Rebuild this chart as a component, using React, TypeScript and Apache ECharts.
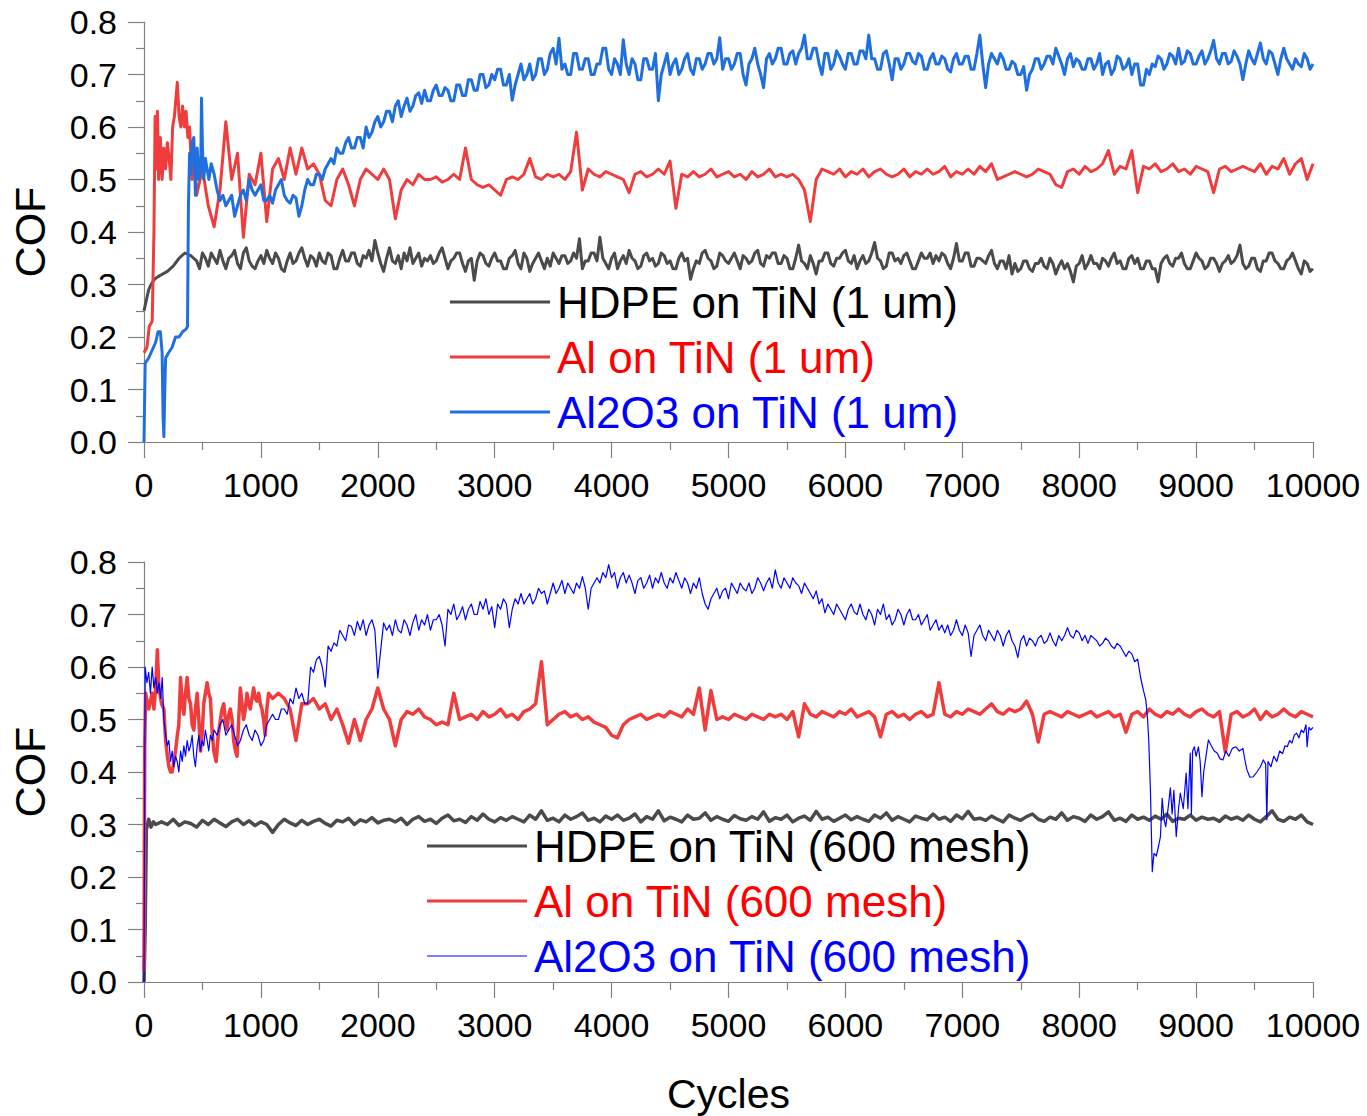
import React, { useEffect, useRef } from 'react';
import * as echarts from 'echarts';

const FONT = "'Liberation Sans', Arial, sans-serif";

const xTicks = { min: 0, max: 10000, interval: 1000 };
const yTicks = { min: 0, max: 0.8, interval: 0.1 };

const names1 = ['HDPE on TiN (1 um)', 'Al on TiN (1 um)', 'Al2O3 on TiN (1 um)'];
const names6 = ['HDPE on TiN (600 mesh)', 'Al on TiN (600 mesh)', 'Al2O3 on TiN (600 mesh)'];

// ---------- Top panel: 1 um ----------
// HDPE: head points, then rows of 1000 cycles sampled every 25 cycles from 450
const hdpe1Head = [[0,0.25],[20,0.27],[40,0.29],[60,0.30],[90,0.31],[120,0.315],[160,0.32],[200,0.325],[250,0.335],[300,0.35],[350,0.36],[400,0.355],[425,0.35]];
const hdpe1Start = 450;
const hdpe1Rows = [
  [0.345,0.33,0.36,0.35,0.335,0.36,0.35,0.34,0.365,0.345,0.33,0.35,0.355,0.365,0.34,0.33,0.36,0.37,0.345,0.335,0.33,0.345,0.355,0.34,0.365,0.35,0.34,0.36,0.35,0.33,0.325,0.345,0.36,0.34,0.345,0.36,0.37,0.35,0.335,0.355],
  [0.35,0.335,0.36,0.345,0.34,0.36,0.355,0.33,0.33,0.35,0.365,0.345,0.345,0.36,0.36,0.34,0.335,0.355,0.35,0.365,0.345,0.384,0.36,0.34,0.325,0.35,0.37,0.345,0.34,0.355,0.33,0.36,0.345,0.37,0.34,0.35,0.36,0.335,0.35,0.345],
  [0.355,0.34,0.345,0.36,0.37,0.35,0.33,0.345,0.35,0.36,0.36,0.34,0.325,0.345,0.35,0.308,0.345,0.36,0.355,0.34,0.335,0.35,0.36,0.345,0.345,0.33,0.33,0.35,0.355,0.365,0.34,0.33,0.36,0.35,0.325,0.34,0.35,0.36,0.345,0.33],
  [0.35,0.335,0.36,0.35,0.34,0.355,0.355,0.34,0.345,0.36,0.35,0.387,0.33,0.345,0.345,0.36,0.36,0.345,0.39,0.35,0.34,0.33,0.35,0.36,0.33,0.345,0.355,0.34,0.365,0.35,0.345,0.33,0.335,0.355,0.36,0.345,0.35,0.335,0.34,0.36],
  [0.355,0.34,0.345,0.33,0.33,0.35,0.36,0.345,0.35,0.31,0.33,0.345,0.34,0.36,0.365,0.35,0.345,0.33,0.335,0.36,0.355,0.345,0.34,0.35,0.36,0.345,0.33,0.355,0.35,0.34,0.345,0.36,0.365,0.34,0.335,0.355,0.35,0.36,0.36,0.34],
  [0.34,0.355,0.35,0.33,0.33,0.35,0.375,0.345,0.34,0.33,0.355,0.34,0.32,0.345,0.345,0.36,0.36,0.34,0.335,0.35,0.35,0.36,0.365,0.345,0.34,0.355,0.33,0.345,0.355,0.34,0.345,0.36,0.38,0.35,0.345,0.33,0.335,0.36,0.36,0.345],
  [0.35,0.34,0.355,0.36,0.345,0.33,0.33,0.345,0.36,0.35,0.35,0.36,0.34,0.355,0.345,0.36,0.355,0.34,0.33,0.35,0.378,0.345,0.345,0.36,0.36,0.335,0.335,0.35,0.35,0.345,0.34,0.355,0.365,0.34,0.33,0.345,0.345,0.33,0.355,0.32],
  [0.34,0.325,0.33,0.345,0.345,0.33,0.325,0.34,0.34,0.35,0.335,0.33,0.35,0.34,0.32,0.335,0.345,0.33,0.34,0.325,0.305,0.335,0.34,0.355,0.33,0.34,0.355,0.34,0.34,0.33,0.35,0.345,0.335,0.35,0.36,0.34,0.345,0.33,0.33,0.35],
  [0.355,0.34,0.35,0.33,0.33,0.345,0.345,0.33,0.33,0.305,0.34,0.35,0.355,0.34,0.335,0.35,0.35,0.36,0.34,0.33,0.33,0.345,0.36,0.35,0.345,0.33,0.335,0.35,0.35,0.34,0.325,0.34,0.345,0.355,0.34,0.345,0.355,0.375,0.34,0.33],
  [0.335,0.35,0.35,0.33,0.325,0.345,0.345,0.36,0.36,0.345,0.34,0.33,0.33,0.345,0.35,0.36,0.345,0.33,0.32,0.345,0.34,0.325,0.33],
];

// Al: head points, then rows sampled every 50 cycles from 450
const al1Head = [[0,0.17],[25,0.18],[45,0.22],[70,0.23],[85,0.4],[95,0.62],[105,0.52],[115,0.63],[125,0.5],[140,0.58],[155,0.5],[170,0.56],[185,0.52],[200,0.57],[215,0.54],[230,0.5],[245,0.6],[260,0.62],[285,0.685],[300,0.62],[315,0.6],[330,0.64],[345,0.6],[360,0.63],[375,0.58],[390,0.6],[410,0.5],[430,0.53]];
const al1Start = 450;
const al1Rows = [
  [0.47,0.52,0.45,0.41,0.48,0.61,0.50,0.55,0.39,0.51,0.49,0.55,0.42,0.52,0.54,0.50,0.56,0.51,0.56,0.52],
  [0.53,0.51,0.46,0.45,0.50,0.52,0.49,0.45,0.50,0.52,0.51,0.50,0.52,0.50,0.425,0.48,0.50,0.49,0.51,0.50],
  [0.50,0.505,0.495,0.50,0.51,0.50,0.56,0.50,0.49,0.485,0.49,0.48,0.47,0.50,0.505,0.50,0.51,0.54,0.505,0.50],
  [0.51,0.505,0.51,0.50,0.515,0.59,0.48,0.52,0.51,0.505,0.515,0.51,0.505,0.50,0.475,0.51,0.515,0.505,0.51,0.52],
  [0.51,0.535,0.445,0.51,0.505,0.515,0.505,0.51,0.52,0.505,0.51,0.515,0.505,0.51,0.50,0.515,0.505,0.51,0.52,0.505],
  [0.51,0.505,0.51,0.50,0.48,0.42,0.50,0.52,0.515,0.51,0.52,0.505,0.515,0.51,0.52,0.505,0.515,0.52,0.51,0.505],
  [0.51,0.52,0.505,0.515,0.51,0.52,0.51,0.515,0.525,0.505,0.515,0.51,0.52,0.51,0.525,0.515,0.53,0.50,0.505,0.51],
  [0.515,0.51,0.505,0.51,0.52,0.515,0.51,0.49,0.485,0.515,0.52,0.51,0.525,0.515,0.52,0.53,0.555,0.51,0.525,0.52],
  [0.555,0.475,0.525,0.52,0.53,0.515,0.52,0.53,0.515,0.52,0.51,0.525,0.52,0.515,0.475,0.52,0.525,0.515,0.52,0.525],
  [0.52,0.515,0.53,0.51,0.525,0.52,0.54,0.51,0.53,0.54,0.50,0.53],
];

// Al2O3: head points, then rows sampled every 25 cycles from 600
const alo1Head = [[0,0],[10,0.15],[40,0.16],[80,0.18],[100,0.19],[120,0.21],[140,0.21],[155,0.17],[163,0.05],[170,0.01],[178,0.1],[185,0.16],[210,0.17],[240,0.18],[270,0.2],[300,0.2],[330,0.21],[360,0.215],[372,0.22],[380,0.45],[390,0.55],[400,0.51],[412,0.57],[426,0.58],[440,0.47],[455,0.56],[470,0.5],[485,0.52],[492,0.655],[500,0.56],[511,0.5],[525,0.54],[540,0.52],[555,0.5],[575,0.53]];
const alo1Start = 600;
const alo1Rows = [
  [0.51,0.48,0.46,0.47,0.45,0.46,0.47,0.43,0.45,0.47,0.48,0.46,0.5,0.48,0.47,0.48,0.49,0.46,0.46,0.47,0.455,0.48,0.49,0.5,0.47,0.46,0.455,0.47,0.465,0.43,0.45,0.48,0.5,0.49,0.49,0.51,0.51,0.5,0.52,0.53],
  [0.54,0.53,0.56,0.55,0.55,0.57,0.58,0.56,0.56,0.58,0.58,0.56,0.6,0.58,0.59,0.61,0.62,0.6,0.61,0.63,0.63,0.61,0.64,0.65,0.62,0.64,0.655,0.63,0.64,0.66,0.665,0.645,0.67,0.65,0.65,0.67,0.68,0.66,0.66,0.675],
  [0.67,0.65,0.65,0.68,0.68,0.66,0.66,0.69,0.69,0.67,0.67,0.7,0.7,0.675,0.68,0.7,0.69,0.71,0.71,0.68,0.68,0.7,0.651,0.68,0.7,0.72,0.69,0.7,0.72,0.69,0.7,0.73,0.73,0.7,0.71,0.74,0.75,0.72,0.769,0.71],
  [0.72,0.7,0.7,0.74,0.74,0.71,0.71,0.73,0.73,0.7,0.7,0.72,0.72,0.75,0.75,0.71,0.7,0.73,0.72,0.7,0.766,0.72,0.7,0.73,0.72,0.69,0.69,0.73,0.73,0.71,0.71,0.74,0.65,0.7,0.72,0.74,0.7,0.72,0.73,0.7],
  [0.71,0.73,0.74,0.71,0.7,0.73,0.73,0.71,0.72,0.74,0.74,0.72,0.73,0.77,0.71,0.73,0.73,0.71,0.72,0.74,0.74,0.7,0.68,0.72,0.73,0.75,0.72,0.7,0.675,0.73,0.74,0.72,0.73,0.75,0.75,0.72,0.72,0.74,0.745,0.72],
  [0.74,0.75,0.775,0.73,0.73,0.75,0.75,0.72,0.7,0.74,0.74,0.71,0.72,0.745,0.735,0.72,0.71,0.74,0.74,0.72,0.72,0.745,0.745,0.73,0.775,0.73,0.73,0.71,0.71,0.74,0.745,0.72,0.69,0.73,0.73,0.71,0.72,0.74,0.74,0.725],
  [0.72,0.74,0.735,0.71,0.71,0.73,0.74,0.72,0.72,0.735,0.73,0.71,0.705,0.73,0.74,0.72,0.72,0.735,0.735,0.71,0.71,0.74,0.775,0.72,0.675,0.72,0.74,0.73,0.72,0.74,0.73,0.71,0.71,0.725,0.72,0.7,0.7,0.715,0.67,0.7],
  [0.71,0.73,0.73,0.71,0.72,0.735,0.735,0.72,0.75,0.735,0.72,0.7,0.73,0.74,0.715,0.73,0.725,0.71,0.71,0.73,0.73,0.71,0.72,0.74,0.7,0.72,0.725,0.7,0.71,0.735,0.73,0.71,0.715,0.73,0.7,0.72,0.72,0.68,0.68,0.71],
  [0.7,0.72,0.715,0.735,0.73,0.71,0.72,0.74,0.735,0.72,0.75,0.72,0.725,0.745,0.74,0.72,0.72,0.735,0.745,0.72,0.73,0.745,0.765,0.73,0.72,0.74,0.74,0.72,0.725,0.745,0.735,0.72,0.69,0.72,0.745,0.73,0.72,0.74,0.76,0.73],
  [0.72,0.745,0.74,0.72,0.7,0.73,0.75,0.73,0.72,0.71,0.73,0.72,0.715,0.74,0.73,0.71,0.72],
];

// ---------- Bottom panel: 600 mesh ----------
const hdpe6Head = [[0,0],[10,0.1],[20,0.29],[40,0.31],[60,0.295],[80,0.305],[100,0.3]];
const hdpe6Start = 150;
const hdpe6Rows = [
  [0.305,0.3,0.31,0.298,0.305,0.302,0.295,0.308,0.3,0.31,0.303,0.296,0.305,0.31,0.3,0.307,0.298,0.305,0.3,0.285],
  [0.3,0.31,0.303,0.298,0.308,0.3,0.306,0.31,0.302,0.297,0.308,0.305,0.312,0.3,0.309,0.305,0.313,0.303,0.308,0.31],
  [0.305,0.312,0.3,0.31,0.315,0.306,0.31,0.302,0.312,0.318,0.307,0.31,0.304,0.315,0.308,0.32,0.31,0.305,0.313,0.308],
  [0.315,0.31,0.305,0.318,0.31,0.326,0.308,0.312,0.305,0.318,0.31,0.315,0.322,0.308,0.312,0.305,0.316,0.31,0.318,0.308],
  [0.312,0.32,0.305,0.315,0.31,0.326,0.307,0.314,0.31,0.305,0.318,0.31,0.312,0.322,0.308,0.315,0.31,0.306,0.317,0.311],
  [0.308,0.315,0.31,0.324,0.306,0.313,0.31,0.318,0.305,0.312,0.316,0.308,0.325,0.31,0.314,0.306,0.312,0.318,0.309,0.315],
  [0.31,0.306,0.318,0.312,0.322,0.308,0.315,0.31,0.305,0.316,0.312,0.309,0.32,0.31,0.314,0.306,0.318,0.311,0.325,0.31],
  [0.312,0.308,0.316,0.31,0.305,0.318,0.312,0.308,0.315,0.32,0.31,0.306,0.314,0.31,0.322,0.308,0.315,0.312,0.306,0.318],
  [0.31,0.315,0.324,0.308,0.312,0.306,0.318,0.31,0.314,0.308,0.316,0.31,0.32,0.306,0.312,0.31,0.318,0.308,0.314,0.31],
  [0.312,0.306,0.316,0.31,0.314,0.308,0.318,0.31,0.305,0.315,0.326,0.31,0.306,0.314,0.31,0.318,0.305,0.3],
];

const al6Head = [[0,0.02],[6,0.45],[14,0.55],[40,0.52],[70,0.55],[85,0.52],[100,0.56],[114,0.633],[128,0.56],[150,0.53],[170,0.52],[185,0.46],[200,0.43],[213,0.41],[227,0.4],[241,0.4],[255,0.42],[270,0.44],[285,0.47],[298,0.49],[313,0.58],[327,0.53],[341,0.51],[355,0.55],[369,0.58],[384,0.54],[398,0.53],[412,0.49],[426,0.48],[440,0.52],[455,0.55],[469,0.5],[483,0.44],[497,0.47],[511,0.53],[525,0.55],[540,0.57],[554,0.55],[568,0.54],[582,0.48],[597,0.44],[617,0.42],[635,0.47],[654,0.5],[668,0.52],[682,0.53],[696,0.5],[710,0.48],[725,0.51],[739,0.52],[753,0.5],[767,0.46],[782,0.44],[796,0.43],[810,0.5],[824,0.56],[838,0.53],[852,0.5],[867,0.52],[881,0.55],[895,0.53],[909,0.52],[924,0.54],[938,0.56],[952,0.54],[966,0.535],[981,0.55],[995,0.53],[1009,0.52],[1023,0.5],[1037,0.47],[1051,0.52],[1066,0.55]];
const al6Start = 1100;
const al6Rows = [
  [0.54,0.55,0.54,0.52,0.46,0.53,0.53,0.54,0.52,0.53,0.50,0.52,0.49,0.455,0.50,0.46,0.50,0.52,0.56,0.52],
  [0.50,0.45,0.50,0.515,0.51,0.52,0.505,0.50,0.49,0.495,0.49,0.55,0.50,0.505,0.51,0.50,0.515,0.505,0.51,0.52],
  [0.505,0.51,0.50,0.515,0.52,0.53,0.61,0.49,0.50,0.51,0.515,0.505,0.51,0.50,0.505,0.495,0.49,0.485,0.47,0.465],
  [0.49,0.50,0.505,0.51,0.50,0.505,0.51,0.505,0.515,0.51,0.505,0.52,0.51,0.56,0.48,0.555,0.50,0.505,0.50,0.51],
  [0.505,0.50,0.51,0.505,0.50,0.51,0.505,0.51,0.50,0.515,0.467,0.53,0.51,0.505,0.515,0.51,0.505,0.515,0.51,0.52],
  [0.505,0.51,0.515,0.505,0.467,0.51,0.515,0.505,0.51,0.50,0.51,0.515,0.505,0.51,0.57,0.51,0.505,0.515,0.51,0.52],
  [0.515,0.51,0.52,0.53,0.515,0.51,0.52,0.515,0.52,0.535,0.51,0.457,0.51,0.515,0.51,0.505,0.515,0.51,0.505,0.51],
  [0.515,0.505,0.51,0.515,0.505,0.51,0.476,0.51,0.515,0.505,0.52,0.51,0.505,0.515,0.51,0.52,0.51,0.505,0.515,0.52],
  [0.51,0.505,0.515,0.438,0.51,0.515,0.505,0.51,0.52,0.50,0.515,0.505,0.51,0.52,0.51,0.505,0.515,0.51,0.505],
];

const alo6Head = [[0,0],[5,0.3],[10,0.6],[25,0.57],[40,0.59],[55,0.55],[70,0.6],[85,0.56],[100,0.58],[114,0.55],[128,0.57],[142,0.54],[156,0.58],[170,0.5],[185,0.47],[199,0.45],[213,0.46],[227,0.42],[241,0.44],[255,0.41],[270,0.43],[284,0.42],[298,0.4],[313,0.44],[327,0.42],[341,0.45],[355,0.43],[369,0.46],[384,0.44],[398,0.45],[412,0.47],[426,0.43],[440,0.41],[455,0.45],[469,0.47],[483,0.44],[497,0.46],[511,0.45],[525,0.48],[540,0.46],[554,0.44],[568,0.47],[584,0.46]];
const alo6Start = 600;
const alo6Rows = [
  [0.48,0.47,0.49,0.5,0.47,0.48,0.49,0.47,0.45,0.46,0.48,0.49,0.47,0.46,0.48,0.47,0.45,0.46,0.49,0.5,0.51,0.5,0.5,0.52,0.52,0.51,0.54,0.53,0.56,0.54,0.55,0.53,0.53,0.6,0.59,0.614,0.62,0.6,0.562,0.64],
  [0.63,0.646,0.64,0.67,0.66,0.65,0.68,0.677,0.66,0.687,0.67,0.69,0.66,0.68,0.69,0.67,0.579,0.633,0.684,0.67,0.68,0.66,0.69,0.67,0.665,0.69,0.68,0.66,0.685,0.7,0.67,0.69,0.68,0.7,0.67,0.69,0.69,0.7,0.68,0.64],
  [0.71,0.7,0.72,0.69,0.7,0.715,0.69,0.71,0.72,0.7,0.7,0.725,0.71,0.73,0.7,0.715,0.675,0.72,0.71,0.73,0.72,0.675,0.71,0.73,0.72,0.74,0.72,0.73,0.74,0.72,0.73,0.75,0.74,0.745,0.72,0.74,0.76,0.74,0.75,0.765],
  [0.74,0.76,0.75,0.74,0.76,0.75,0.772,0.75,0.71,0.75,0.76,0.77,0.76,0.78,0.77,0.795,0.77,0.78,0.75,0.77,0.78,0.76,0.775,0.76,0.74,0.765,0.77,0.75,0.76,0.775,0.75,0.77,0.76,0.78,0.76,0.75,0.77,0.76,0.78,0.765],
  [0.75,0.77,0.76,0.74,0.76,0.75,0.77,0.74,0.72,0.71,0.73,0.74,0.75,0.73,0.745,0.75,0.73,0.76,0.75,0.74,0.76,0.75,0.745,0.76,0.74,0.75,0.77,0.76,0.745,0.76,0.77,0.75,0.785,0.76,0.75,0.77,0.76,0.75,0.77,0.76],
  [0.755,0.74,0.76,0.75,0.74,0.73,0.745,0.72,0.73,0.703,0.72,0.71,0.7,0.72,0.71,0.7,0.69,0.71,0.72,0.705,0.7,0.72,0.7,0.69,0.71,0.7,0.68,0.71,0.7,0.72,0.69,0.7,0.68,0.69,0.71,0.7,0.68,0.7,0.71,0.69],
  [0.69,0.7,0.68,0.69,0.7,0.67,0.68,0.69,0.67,0.68,0.665,0.68,0.66,0.67,0.69,0.67,0.66,0.68,0.665,0.62,0.66,0.67,0.68,0.66,0.65,0.67,0.66,0.65,0.67,0.66,0.64,0.66,0.67,0.65,0.64,0.618,0.65,0.66,0.64,0.655],
  [0.65,0.64,0.655,0.66,0.645,0.65,0.665,0.65,0.64,0.66,0.65,0.66,0.675,0.66,0.655,0.67,0.665,0.65,0.66,0.645,0.66,0.655,0.65,0.64,0.645,0.655,0.65,0.64,0.635,0.645,0.64,0.63,0.62,0.63,0.625,0.61,0.615],
];
const alo6Tail = [[8525,0.58],[8550,0.555],[8570,0.537],[8585,0.5],[8595,0.46],[8610,0.36],[8625,0.21],[8640,0.245],[8660,0.24],[8680,0.26],[8695,0.277],[8710,0.35],[8725,0.31],[8740,0.296],[8760,0.33],[8780,0.37],[8795,0.32],[8810,0.365],[8830,0.277],[8850,0.33],[8865,0.36],[8890,0.33],[8915,0.398],[8930,0.33],[8950,0.436],[8960,0.32],[8970,0.44],[8985,0.448],[9000,0.43],[9020,0.448],[9035,0.42],[9050,0.353],[9065,0.4],[9080,0.423],[9105,0.461],[9130,0.45],[9155,0.44],[9180,0.436],[9205,0.425],[9230,0.423],[9255,0.44],[9280,0.43],[9310,0.445],[9340,0.448],[9370,0.44],[9400,0.445],[9420,0.42],[9435,0.404],[9460,0.39],[9490,0.391],[9520,0.4],[9550,0.41],[9575,0.423],[9595,0.415],[9605,0.309],[9615,0.42],[9640,0.41],[9665,0.43],[9690,0.42],[9715,0.44],[9740,0.435],[9760,0.45],[9780,0.448],[9800,0.46],[9820,0.455],[9840,0.47],[9860,0.474],[9880,0.465],[9900,0.48],[9920,0.475],[9940,0.49],[9950,0.448],[9965,0.485],[9980,0.48],[10000,0.485]];

const ROW_SPAN = 1000;
function build(head: number[][], start: number, rows: number[][], step: number, tail: number[][] = []) {
  const body: number[][] = [];
  rows.forEach((row, r) => row.forEach((y, i) => body.push([start + r * ROW_SPAN + i * step, y])));
  return head.concat(body, tail);
}

const GRAY = '#4b4b4b';
const RED = '#f03c3c';
const BLUE1 = '#1f6fdf';
const BLUE6 = '#0000ff';
const AXIS = '#808080';

function xAxisOpt(gridIndex: number, withName: boolean) {
  return {
    type: 'value', gridIndex, ...xTicks,
    name: withName ? 'Cycles' : '', nameLocation: 'middle', nameGap: 91,
    nameTextStyle: { fontSize: 41, color: '#000', fontFamily: FONT },
    axisLine: { show: true, onZero: false, lineStyle: { color: AXIS, width: 1.2 } },
    axisTick: { show: true, length: 16, lineStyle: { color: AXIS, width: 1.2 } },
    minorTick: { show: true, splitNumber: 2, length: 8, lineStyle: { color: AXIS, width: 1.2 } },
    splitLine: { show: false },
    axisLabel: { fontSize: 34, color: '#000', fontFamily: FONT, margin: 26, formatter: (v: number) => String(v) },
  };
}
function yAxisOpt(gridIndex: number) {
  return {
    type: 'value', gridIndex, ...yTicks,
    name: 'COF', nameLocation: 'middle', nameGap: 93,
    nameTextStyle: { fontSize: 43, color: '#000', fontFamily: FONT },
    axisLine: { show: true, onZero: false, lineStyle: { color: AXIS, width: 1.2 } },
    axisTick: { show: true, length: 16, lineStyle: { color: AXIS, width: 1.2 } },
    minorTick: { show: true, splitNumber: 2, length: 8, lineStyle: { color: AXIS, width: 1.2 } },
    splitLine: { show: false },
    axisLabel: { fontSize: 34, color: '#000', fontFamily: FONT, margin: 27, formatter: (v: number) => v.toFixed(1) },
  };
}
function line(name: string, data: number[][], color: string, width: number, idx: number) {
  return {
    type: 'line', name, data, xAxisIndex: idx, yAxisIndex: idx,
    symbol: 'none', showSymbol: false, silent: true,
    lineStyle: { color, width, join: 'round' }, itemStyle: { color },
  };
}
function legendOpt(left: number, top: number, names: string[], thinLast: boolean) {
  const textColors = ['#000000', '#ff0000', '#0000ff'];
  return {
    left, top, orient: 'vertical', itemWidth: 100, itemHeight: 3, itemGap: 11,
    icon: 'rect', selectedMode: false,
    textStyle: { fontSize: 44, lineHeight: 44, fontFamily: FONT, padding: [0, 0, 0, 2] },
    data: names.map((n, i) => ({
      name: n,
      textStyle: { color: textColors[i] },
      ...(thinLast && i === 2 ? { icon: 'path://M0,0L100,0L100,1.2L0,1.2Z' } : {}),
    })),
  };
}

export default function App() {
  const ref = useRef<HTMLDivElement>(null);
  useEffect(() => {
    if (!ref.current) return;
    const chart = echarts.init(ref.current, null, { renderer: 'svg' });
    chart.setOption({
      animation: false,
      backgroundColor: '#ffffff',
      grid: [
        { left: 140, top: 22, width: 1173, height: 420 },
        { left: 140, top: 562, width: 1173, height: 420 },
      ],
      xAxis: [xAxisOpt(0, false), xAxisOpt(1, true)],
      yAxis: [yAxisOpt(0), yAxisOpt(1)],
      legend: [legendOpt(445, 275, names1, false), legendOpt(422, 819, names6, true)],
      series: [
        line(names1[0], build(hdpe1Head, hdpe1Start, hdpe1Rows, 25), GRAY, 3, 0),
        line(names1[1], build(al1Head, al1Start, al1Rows, 50), RED, 3, 0),
        line(names1[2], build(alo1Head, alo1Start, alo1Rows, 25), BLUE1, 3, 0),
        line(names6[0], build(hdpe6Head, hdpe6Start, hdpe6Rows, 50), GRAY, 3.5, 1),
        line(names6[1], build(al6Head, al6Start, al6Rows, 50), RED, 3.5, 1),
        line(names6[2], build(alo6Head, alo6Start, alo6Rows, 25, alo6Tail), BLUE6, 1.2, 1),
      ],
    });
    return () => chart.dispose();
  }, []);
  return (
    <div
      ref={ref}
      style={{ position: 'fixed', left: 0, top: 0, width: 1367, height: 1116, background: '#fff' }}
    />
  );
}
